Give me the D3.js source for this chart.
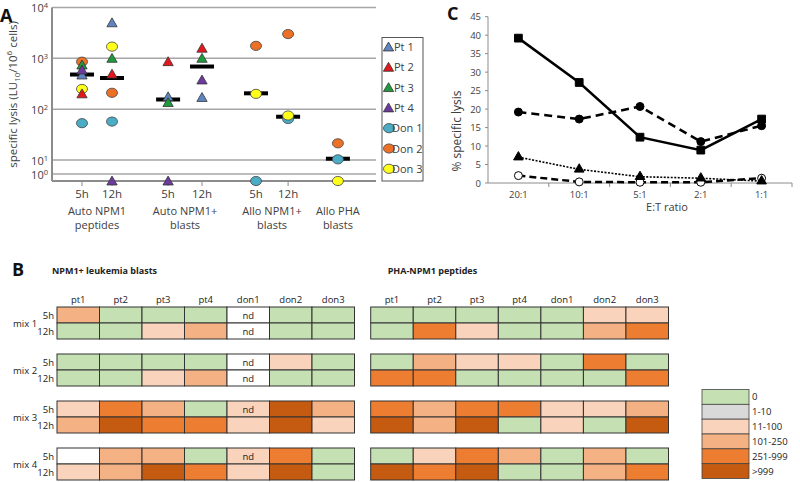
<!DOCTYPE html>
<html>
<head>
<meta charset="utf-8">
<script src="https://cdn.jsdelivr.net/npm/d3@7/dist/d3.min.js"></script>
<style>
  body { margin: 0; background: #fff; }
  svg { display: block; font-family: "Open Sans", sans-serif; }
</style>
</head>
<body>
<svg id="fig" width="800" height="482"></svg>
<script>
// ---- Panel A data ---------------------------------------------------------
const slotLabels = ["5h", "12h", "5h", "12h", "5h", "12h", ""];
const slotPos = [1, 2, 3.87, 5, 6.8, 7.87, 9.53];
const groupLabels = [["Auto NPM1", "peptides"], ["Auto NPM1+", "blasts"], ["Allo NPM1+", "blasts"], ["Allo PHA", "blasts"]];
const groupSlots = [[0, 1], [2, 3], [4, 5], [6]];
const subjects = ["Pt 1", "Pt 2", "Pt 3", "Pt 4", "Don 1", "Don 2", "Don 3"];
const subjectColors = ["#5f84c0", "#e3171c", "#1e9a3c", "#6c3a9c", "#4bacc6", "#ec7026", "#ffff1a"];
const pt1Lysis = [470, 5000, 175, 170, null, null, null];
const pt2Lysis = [200, 490, 860, 1580, null, null, null];
const pt3Lysis = [740, 1000, 135, 1000, null, null, null];
const pt4Lysis = [590, 0, 0, 375, null, null, null];
const don1Lysis = [53, 57, null, null, 0, 64, 10.3];
const don2Lysis = [860, 210, null, null, 1760, 3000, 21.3];
const don3Lysis = [250, 1700, null, null, 200, 75, 0];
const medianLysis = [480, 410, 155, 690, 205, 71, 10.6];
const decadeTicks = [1e4, 1e3, 1e2, 1e1, 1e0];

// ---- Panel C data ---------------------------------------------------------
const etRatios = ["20:1", "10:1", "5:1", "2:1", "1:1"];
const lysisSquares = [39.2, 27.2, 12.4, 8.9, 17.3];
const lysisDots = [19.2, 17.3, 20.7, 11.2, 15.5];
const lysisTriangles = [7.0, 3.7, 1.7, 1.3, 0.5];
const lysisOpen = [2.0, 0.3, 0.2, 0.2, 1.3];
const lysisTicks = [0, 5, 10, 15, 20, 25, 30, 35, 40, 45];

// ---- Panel B data ---------------------------------------------------------
const heatLevels = ["0", "1-10", "11-100", "101-250", "251-999", ">999"];
const heatColors = ["#c5e0b3", "#d9d9d9", "#f9d3bb", "#f4b183", "#ed7d31", "#c55a11"];
const heatCols = ["pt1", "pt2", "pt3", "pt4", "don1", "don2", "don3"];
const mixes = ["mix 1", "mix 2", "mix 3", "mix 4"];
const times = ["5h", "12h"];
// level index per cell, null = white (not tested)
const blastsMix1 = [[3, 0, 0, 0, null, 0, 0], [0, 0, 2, 3, null, 0, 0]];
const blastsMix2 = [[0, 0, 0, 0, null, 2, 0], [0, 0, 2, 3, null, 0, 0]];
const blastsMix3 = [[2, 4, 3, 0, 2, 5, 3], [3, 5, 4, 4, 2, 5, 2]];
const blastsMix4 = [[null, 3, 3, 0, 2, 4, 0], [2, 3, 5, 4, 2, 5, 0]];
const blastsNd = [[0, 0], [0, 1], [1, 0], [1, 1], [2, 0], [3, 0]]; // [mix, time] in don1
const phaMix1 = [[0, 0, 0, 0, 0, 2, 2], [0, 4, 2, 0, 0, 3, 4]];
const phaMix2 = [[0, 3, 2, 2, 0, 4, 0], [4, 4, 0, 0, 0, 0, 4]];
const phaMix3 = [[4, 3, 4, 4, 2, 2, 3], [5, 3, 5, 0, 2, 0, 5]];
const phaMix4 = [[0, 2, 4, 3, 0, 3, 0], [5, 4, 5, 0, 0, 3, 4]];

const svg = d3.select("#fig");
const txt = "#404040";

function panelLetter(x, y, s) {
  svg.append("text").attr("x", x).attr("y", y).attr("font-size", 18)
    .attr("font-weight", "bold").attr("fill", "#111").text(s);
}

// [A] Scatter, log scale ----------------------------------------------------
const xA = d3.scaleLinear().domain([0, 10.8]).range([52, 376]);
const yLog = d3.scaleLog().domain([10, 1e4]).range([160, 7.5]);
const yLow = d3.scaleLinear().domain([0, 1, 10]).range([181, 174, 160]);
const yA = v => v >= 10 ? yLog(v) : yLow(v);

const gA = svg.append("g");
panelLetter(0, 22, "A");

gA.selectAll("line.grid").data(decadeTicks).join("line")
  .attr("x1", xA(0)).attr("x2", xA(10.8))
  .attr("y1", yA).attr("y2", yA)
  .attr("stroke", "#a6a6a6").attr("stroke-width", 1.5);

const decLabel = gA.selectAll("text.dec").data(decadeTicks).join("text")
  .attr("x", xA(0) - 4).attr("y", d => yA(d) + 4.5)
  .attr("text-anchor", "end").attr("font-size", 11).attr("fill", txt);
decLabel.append("tspan").text("10");
decLabel.append("tspan").attr("dy", -4).attr("font-size", 7.5).text(d => Math.round(Math.log10(d)));

gA.append("line").attr("x1", xA(0)).attr("x2", xA(0)).attr("y1", yA(1e4)).attr("y2", yA(0))
  .attr("stroke", "#8c8c8c").attr("stroke-width", 2);
gA.append("line").attr("x1", xA(0)).attr("x2", xA(10.8)).attr("y1", yA(0)).attr("y2", yA(0))
  .attr("stroke", "#8c8c8c").attr("stroke-width", 2);

gA.selectAll("line.tick").data(slotPos).join("line")
  .attr("x1", xA).attr("x2", xA).attr("y1", yA(0)).attr("y2", yA(0) + 5)
  .attr("stroke", "#8c8c8c").attr("stroke-width", 1);

gA.selectAll("text.slot").data(slotLabels).join("text")
  .attr("x", (d, i) => xA(slotPos[i])).attr("y", 198)
  .attr("text-anchor", "middle").attr("font-size", 11.5).attr("fill", txt).text(d => d);

groupLabels.forEach((lines, i) => {
  const cx = d3.mean(groupSlots[i], s => xA(slotPos[s]));
  lines.forEach((l, j) => {
    gA.append("text").attr("x", cx).attr("y", 215 + j * 14)
      .attr("text-anchor", "middle").attr("font-size", 11).attr("fill", txt).text(l);
  });
});

const yTitle = gA.append("text")
  .attr("transform", `translate(17,${yA(1e4) + 87}) rotate(-90)`)
  .attr("text-anchor", "middle").attr("font-size", 11.5).attr("fill", txt);
yTitle.append("tspan").text("specific lysis (LU");
yTitle.append("tspan").attr("dy", 3).attr("font-size", 8).text("10");
yTitle.append("tspan").attr("dy", -3).text("/10");
yTitle.append("tspan").attr("dy", -5).attr("font-size", 8).text("6");
yTitle.append("tspan").attr("dy", 5).text(" cells)");

// median bars
gA.selectAll("line.med").data(medianLysis).join("line")
  .attr("x1", (d, i) => xA(slotPos[i]) - 12).attr("x2", (d, i) => xA(slotPos[i]) + 12)
  .attr("y1", yA).attr("y2", yA).attr("stroke", "#000").attr("stroke-width", 4);

const allLysis = [pt1Lysis, pt2Lysis, pt3Lysis, pt4Lysis, don1Lysis, don2Lysis, don3Lysis];
const triPath = d3.symbol(d3.symbolTriangle).size(46)();
function drawMarker(g, k, x, y) {
  if (k < 4) {
    g.append("path").attr("d", triPath).attr("transform", `translate(${x},${y + 1})`)
      .attr("fill", subjectColors[k]).attr("stroke", "#333").attr("stroke-width", 0.8);
  } else {
    g.append("ellipse").attr("cx", x).attr("cy", y).attr("rx", 5.5).attr("ry", 4.6)
      .attr("fill", subjectColors[k]).attr("stroke", "#444").attr("stroke-width", 0.8);
  }
}
// donors first, patients on top
[4, 5, 6, 0, 1, 2, 3].forEach(k => {
  allLysis[k].forEach((v, s) => {
    if (v === null) return;
    drawMarker(gA, k, xA(slotPos[s]), yA(v));
  });
});

// legend
const legA = gA.append("g");
legA.append("rect").attr("x", 382).attr("y", 37.5).attr("width", 41).attr("height", 143.5)
  .attr("fill", "#fff").attr("stroke", "#555").attr("stroke-width", 1);
subjects.forEach((s, k) => {
  const y = 47 + k * 20.3;
  drawMarker(legA, k, k < 4 ? 388.5 : 389, y);
  legA.append("text").attr("x", k < 4 ? 394 : 392).attr("y", y + 4)
    .attr("font-size", 11).attr("fill", txt).text(s);
});

// [C] Line chart -------------------------------------------------------------
const xC = d3.scaleBand().domain(etRatios).range([488, 792]);
const yC = d3.scaleLinear().domain([0, 45]).range([183, 16.7]);
const gC = svg.append("g");
panelLetter(447, 20, "C");

gC.append("line").attr("x1", 488).attr("x2", 488).attr("y1", yC(45)).attr("y2", yC(0)).attr("stroke", "#8c8c8c");
gC.append("line").attr("x1", 488).attr("x2", 792).attr("y1", yC(0)).attr("y2", yC(0)).attr("stroke", "#8c8c8c");
gC.selectAll("line.yt").data(lysisTicks).join("line")
  .attr("x1", 485).attr("x2", 488).attr("y1", yC).attr("y2", yC).attr("stroke", "#8c8c8c");
gC.selectAll("text.yt").data(lysisTicks).join("text")
  .attr("x", 481).attr("y", d => yC(d) + 3.5).attr("text-anchor", "end")
  .attr("font-size", 9.5).attr("fill", txt).text(d => d);
gC.selectAll("line.xt").data(etRatios).join("line")
  .attr("x1", d => xC(d) + xC.bandwidth()).attr("x2", d => xC(d) + xC.bandwidth())
  .attr("y1", yC(0)).attr("y2", yC(0) + 4).attr("stroke", "#8c8c8c");
gC.selectAll("text.xt").data(etRatios).join("text")
  .attr("x", d => xC(d) + xC.bandwidth() / 2).attr("y", 198).attr("text-anchor", "middle")
  .attr("font-size", 9.5).attr("fill", txt).text(d => d);
gC.append("text").attr("x", 667).attr("y", 211).attr("text-anchor", "middle")
  .attr("font-size", 11).attr("fill", txt).text("E:T ratio");
gC.append("text").attr("transform", "translate(461,131) rotate(-90)").attr("text-anchor", "middle")
  .attr("font-size", 12).attr("fill", txt).text("% specific lysis");

const cx = d => xC(d) + xC.bandwidth() / 2;
const lineC = d3.line().x((d, i) => cx(etRatios[i])).y(d => yC(d));
const seriesC = [
  { vals: lysisOpen, dash: "7,4", w: 2.5, sym: d3.symbolCircle, size: 50, fill: "#fff" },
  { vals: lysisTriangles, dash: "2,1.5", w: 1.6, sym: d3.symbolTriangle, size: 40, fill: "#000" },
  { vals: lysisDots, dash: "8,5", w: 2.5, sym: d3.symbolCircle, size: 50, fill: "#000" },
  { vals: lysisSquares, dash: null, w: 2.5, sym: d3.symbolSquare, size: 60, fill: "#000" }
];
seriesC.forEach(s => {
  gC.append("path").attr("d", lineC(s.vals)).attr("fill", "none").attr("stroke", "#000")
    .attr("stroke-width", s.w).attr("stroke-dasharray", s.dash);
});
seriesC.forEach(s => {
  gC.selectAll(null).data(s.vals).join("path")
    .attr("d", d3.symbol(s.sym).size(s.size)())
    .attr("transform", (d, i) => `translate(${cx(etRatios[i])},${yC(d)})`)
    .attr("fill", s.fill).attr("stroke", "#000").attr("stroke-width", 1);
});

// [B] Heatmaps ---------------------------------------------------------------
panelLetter(12, 276, "B");
const yB = d3.scaleBand().domain(mixes).range([307, 480]).paddingInner(15 / 47);
const rowH = yB.bandwidth() / 2;

function heatmap(x0, x1, title, mixData, ndList, withRowLabels) {
  const g = svg.append("g");
  const xB = d3.scaleBand().domain(heatCols).range([x0, x1]);
  g.append("text").attr("x", x0 - 5 + (withRowLabels ? 0 : 22)).attr("y", 274)
    .attr("font-size", 9).attr("font-weight", "bold").attr("fill", "#222").text(title);
  g.selectAll("text.col").data(heatCols).join("text")
    .attr("x", d => xB(d) + xB.bandwidth() / 2).attr("y", 303).attr("text-anchor", "middle")
    .attr("font-size", 9.5).attr("fill", "#222").text(d => d);
  mixData.forEach((rows, m) => {
    const top = yB(mixes[m]);
    rows.forEach((row, t) => {
      g.selectAll(null).data(row).join("rect")
        .attr("x", (d, c) => xB(heatCols[c])).attr("y", top + t * rowH)
        .attr("width", xB.bandwidth()).attr("height", rowH)
        .attr("fill", d => d === null ? "#fff" : heatColors[d])
        .attr("stroke", "#333").attr("stroke-width", 1);
      if (withRowLabels) {
        g.append("text").attr("x", x0 - 3).attr("y", top + t * rowH + rowH / 2 + 3.5)
          .attr("text-anchor", "end").attr("font-size", 9.5).attr("fill", "#222").text(times[t]);
      }
    });
    if (withRowLabels) {
      g.append("text").attr("x", 13).attr("y", top + rowH + 3.5)
        .attr("font-size", 9.5).attr("fill", "#222").text(mixes[m]);
    }
  });
  ndList.forEach(([m, t]) => {
    g.append("text").attr("x", xB("don1") + xB.bandwidth() / 2)
      .attr("y", yB(mixes[m]) + t * rowH + rowH / 2 + 3.5).attr("text-anchor", "middle")
      .attr("font-size", 9.5).attr("fill", "#222").text("nd");
  });
}
heatmap(57, 354.5, "NPM1+ leukemia blasts", [blastsMix1, blastsMix2, blastsMix3, blastsMix4], blastsNd, true);
heatmap(370.7, 668.5, "PHA-NPM1  peptides", [phaMix1, phaMix2, phaMix3, phaMix4], [], false);

// legend B
const yLeg = d3.scaleBand().domain(heatLevels).range([389.5, 478.5]);
const legB = svg.append("g");
legB.selectAll("rect").data(heatLevels).join("rect")
  .attr("x", 702).attr("y", d => yLeg(d)).attr("width", 47).attr("height", yLeg.bandwidth())
  .attr("fill", (d, i) => heatColors[i]).attr("stroke", "#444").attr("stroke-width", 0.8);
legB.selectAll("text").data(heatLevels).join("text")
  .attr("x", 752).attr("y", d => yLeg(d) + yLeg.bandwidth() / 2 + 3.5)
  .attr("font-size", 9.5).attr("fill", "#222").text(d => d);
</script>
</body>
</html>
